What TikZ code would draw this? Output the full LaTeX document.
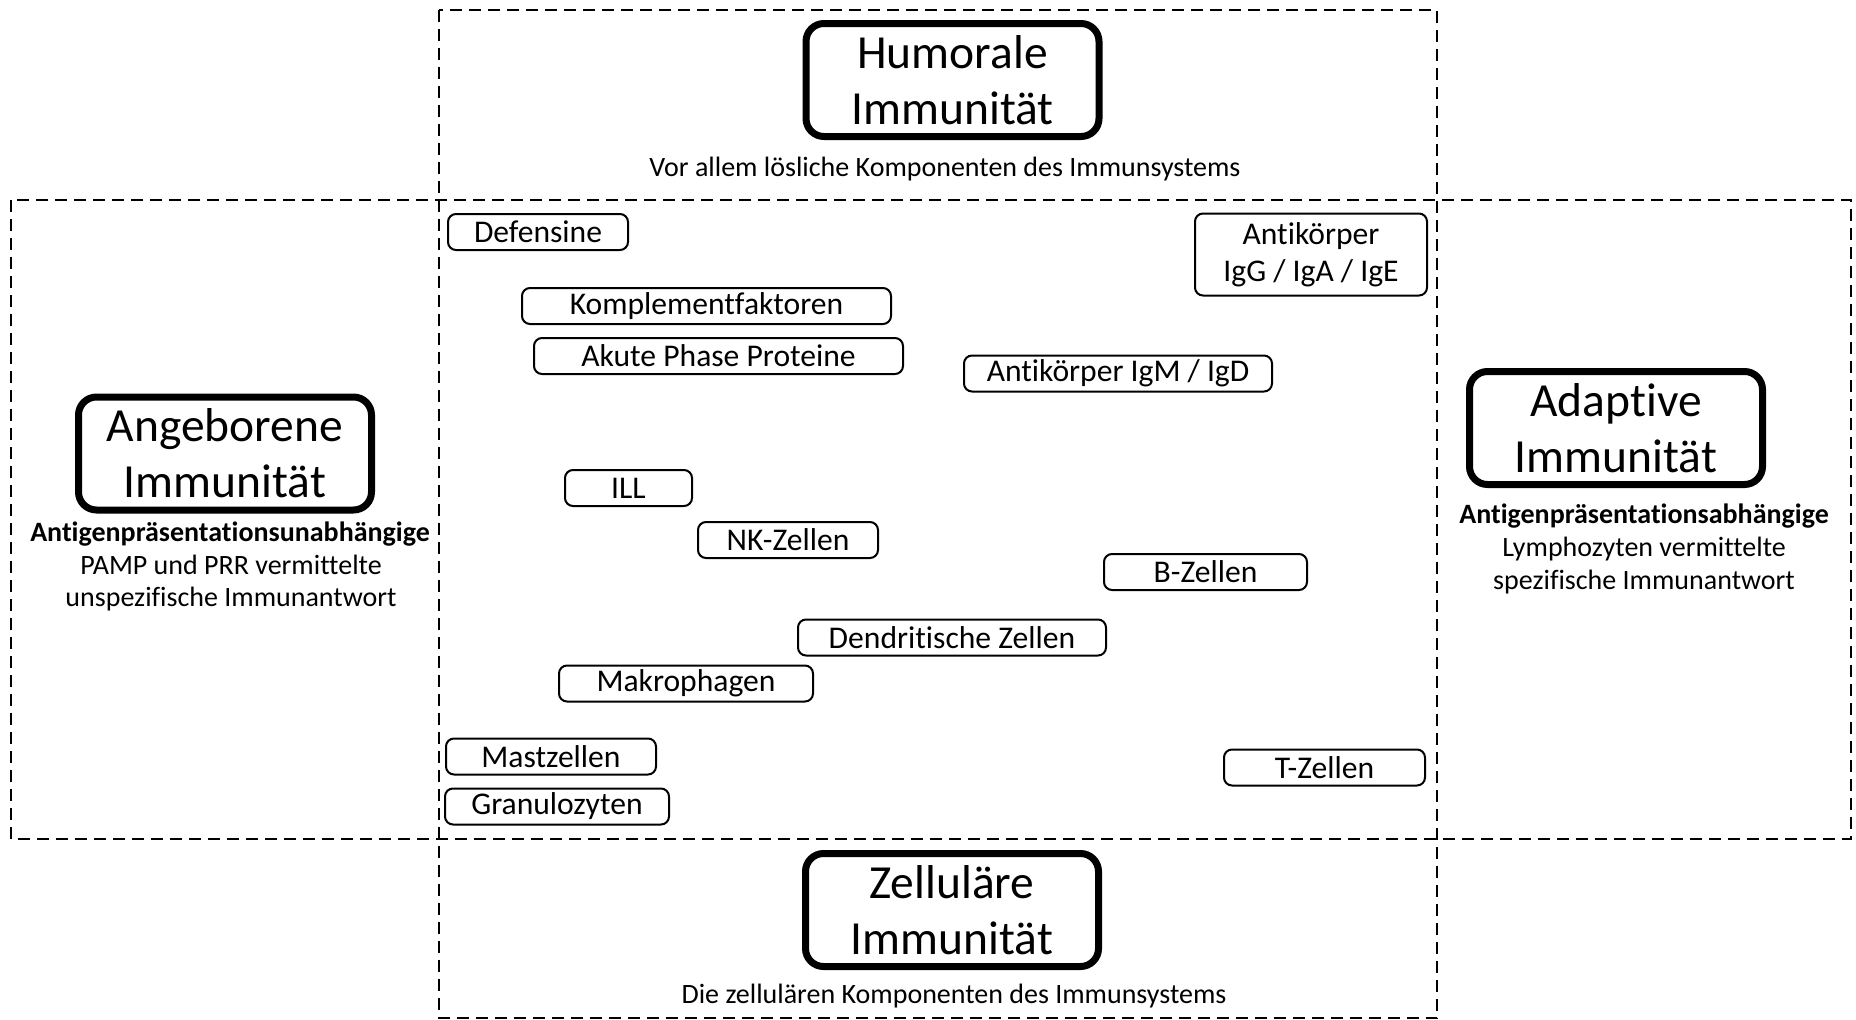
\documentclass[tikz,border=0pt]{standalone}
\usepackage{fontspec}
\setmainfont[Ligatures={NoCommon,NoContextual}]{Carlito}
\begin{document}
\begin{tikzpicture}[x=1pt,y=-1pt,
  region/.style={draw, line width=2pt, dash pattern=on 12pt off 7pt},
  bigbox/.style={draw, line width=7pt, rounded corners=18pt, minimum width=293pt, minimum height=113pt, inner sep=0pt, align=center, font=\fontsize{47.5}{56}\selectfont},
  item/.style={draw, line width=2pt, rounded corners=8pt, minimum height=36pt, inner sep=0pt, align=center, font=\fontsize{31.6}{37}\selectfont},
  sub/.style={anchor=base, inner sep=0pt, font=\fontsize{28}{33}\selectfont}]
\useasboundingbox (0,0) rectangle (1856,1020);
% dashed regions
\draw[region] (439,9.5) rectangle (1437,1018);
\draw[region] (11,200) rectangle (1851,839);
% main category boxes
\node[bigbox] (hum) at (952.5,80) {Humorale\\Immunität};
\node[bigbox] (ang) at (225,453.5) {Angeborene\\Immunität};
\node[bigbox] (ada) at (1616,428) {Adaptive\\Immunität};
\node[bigbox] (zel) at (952,910) {Zelluläre\\Immunität};
% descriptions
\node[sub] (humd) at (945,176) {Vor allem lösliche Komponenten des Immunsystems};
\node[sub] (zeld) at (954,1003) {Die zellulären Komponenten des Immunsystems};
\node[sub,font=\fontsize{28}{33}\selectfont\bfseries] (angd1) at (230,541) {Antigenpräsentationsunabhängige};
\node[sub] (angd2) at (231,574) {PAMP und PRR vermittelte};
\node[sub] (angd3) at (231,606) {unspezifische Immunantwort};
\node[sub,font=\fontsize{28}{33}\selectfont\bfseries] (adad1) at (1644,523) {Antigenpräsentationsabhängige};
\node[sub] (adad2) at (1644,556) {Lymphozyten vermittelte};
\node[sub] (adad3) at (1644,589) {spezifische Immunantwort};
% components
\node[item, minimum width=180pt] (def) at (538,232) {Defensine};
\node[item, minimum width=369pt] (kom) at (706.5,306) {Komplementfaktoren};
\node[item, minimum width=369pt] (akp) at (718.5,356) {Akute Phase Proteine};
\node[item, minimum width=308pt] (igm) at (1118,373.5) {Antikörper IgM / IgD};
\node[item, minimum width=232pt, minimum height=82pt] (igg) at (1311,254.5) {Antikörper\\IgG / IgA / IgE};
\node[item, minimum width=127pt] (ill) at (628.5,488) {ILL};
\node[item, minimum width=180pt] (nk) at (788,540) {NK-Zellen};
\node[item, minimum width=203pt] (bz) at (1205.5,572) {B-Zellen};
\node[item, minimum width=308pt] (den) at (952,637.5) {Dendritische Zellen};
\node[item, minimum width=254pt] (mak) at (686,683.5) {Makrophagen};
\node[item, minimum width=210pt] (mas) at (551,756.5) {Mastzellen};
\node[item, minimum width=224pt] (gra) at (557,806.5) {Granulozyten};
\node[item, minimum width=201pt] (tz) at (1324.5,767.5) {T-Zellen};
\end{tikzpicture}
\end{document}
